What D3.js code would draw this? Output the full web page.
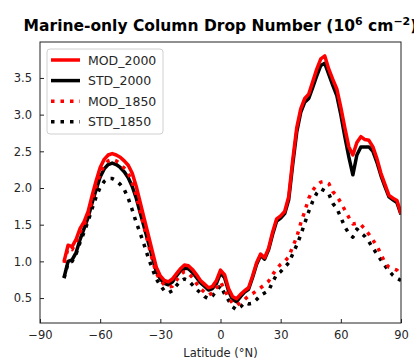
<!DOCTYPE html>
<html>
<head>
<meta charset="utf-8">
<script src="https://cdn.jsdelivr.net/npm/d3@7"></script>
<style>
  body { margin: 0; background: white; }
  text { font-family: "DejaVu Sans", sans-serif; }
</style>
</head>
<body>
<div id="chart"></div>
<script>
// latitude grid, 2 degree steps from -78 to 90
var lats = d3.range(-78, 91, 2);

var mod2000 = [1.00,1.22,1.20,1.30,1.45,1.54,1.68,1.90,2.10,2.28,2.39,2.45,2.47,2.45,2.42,2.37,2.31,2.20,2.02,1.80,
  1.58,1.36,1.14,0.92,0.80,0.74,0.72,0.76,0.83,0.90,0.95,0.94,0.89,0.82,0.74,0.69,0.64,0.66,0.74,0.88,
  0.82,0.63,0.52,0.49,0.55,0.60,0.64,0.80,0.98,1.10,1.05,1.18,1.40,1.58,1.62,1.68,1.88,2.38,2.82,3.08,
  3.22,3.28,3.45,3.62,3.76,3.80,3.62,3.48,3.35,3.10,2.82,2.56,2.45,2.62,2.70,2.66,2.65,2.56,2.40,2.20,
  2.05,1.90,1.86,1.83,1.65];
var std2000 = [0.78,1.00,1.02,1.12,1.30,1.45,1.60,1.80,1.98,2.15,2.26,2.32,2.34,2.32,2.28,2.22,2.14,2.02,1.86,1.66,
  1.46,1.26,1.06,0.86,0.76,0.70,0.68,0.72,0.80,0.87,0.91,0.90,0.85,0.78,0.71,0.66,0.61,0.63,0.70,0.84,
  0.78,0.60,0.48,0.45,0.52,0.58,0.62,0.78,0.96,1.08,1.03,1.16,1.37,1.55,1.59,1.65,1.84,2.32,2.76,3.03,
  3.17,3.22,3.37,3.53,3.67,3.70,3.55,3.40,3.26,3.00,2.70,2.42,2.18,2.45,2.56,2.56,2.56,2.50,2.35,2.17,
  2.02,1.88,1.84,1.80,1.64];
var mod1850 = [0.98,1.18,1.16,1.26,1.40,1.50,1.63,1.84,2.03,2.20,2.31,2.37,2.39,2.37,2.33,2.27,2.20,2.08,1.90,1.68,
  1.46,1.24,1.02,0.84,0.74,0.68,0.65,0.66,0.74,0.82,0.86,0.84,0.78,0.70,0.63,0.58,0.54,0.57,0.64,0.72,
  0.62,0.50,0.43,0.40,0.44,0.48,0.53,0.56,0.60,0.64,0.68,0.73,0.82,0.90,0.96,1.00,1.06,1.20,1.33,1.52,
  1.68,1.86,1.97,2.04,2.08,2.09,2.06,1.95,1.89,1.80,1.70,1.60,1.51,1.52,1.50,1.44,1.37,1.29,1.21,1.10,
  0.98,0.92,0.90,0.88,0.81];
var std1850 = [0.77,0.98,1.00,1.10,1.26,1.40,1.55,1.72,1.88,2.01,2.09,2.13,2.13,2.10,2.05,1.98,1.86,1.70,1.53,1.38,
  1.22,1.05,0.90,0.76,0.67,0.60,0.57,0.60,0.67,0.73,0.76,0.74,0.68,0.62,0.57,0.52,0.49,0.53,0.60,0.67,
  0.56,0.47,0.38,0.34,0.38,0.44,0.42,0.43,0.48,0.54,0.57,0.60,0.72,0.82,0.86,0.92,0.98,1.10,1.22,1.36,
  1.52,1.68,1.82,1.93,1.99,1.96,1.92,1.79,1.72,1.60,1.47,1.38,1.33,1.44,1.39,1.34,1.27,1.18,1.10,1.02,
  0.94,0.87,0.81,0.77,0.74];

var seriesNames = ['MOD_2000', 'STD_2000', 'MOD_1850', 'STD_1850'];
var seriesValues = [mod2000, std2000, mod1850, std1850];
var seriesColors = ['#ff0000', '#000000', '#ff0000', '#000000'];
var seriesDashed = [false, false, true, true];
var drawOrder = [1, 0, 3, 2]; // red drawn over black

var xTicks = [-90, -60, -30, 0, 30, 60, 90];
var yTicks = [0.5, 1.0, 1.5, 2.0, 2.5, 3.0, 3.5];

var w = 414, h = 361;
var mLeft = 40, mRight = 401, mTop = 42, mBottom = 323;

var svg = d3.select('#chart').append('svg')
  .attr('width', w)
  .attr('height', h)
  .style('background', 'white');

var x = d3.scaleLinear().domain([-90, 90]).range([mLeft, mRight]);
var y = d3.scaleLinear().domain([0.16, 3.99]).range([mBottom, mTop]);

var line = d3.line()
  .x(function(d) { return x(d[0]); })
  .y(function(d) { return y(d[1]); });

svg.append('clipPath').attr('id', 'clip')
  .append('rect')
  .attr('x', mLeft).attr('y', mTop)
  .attr('width', mRight - mLeft).attr('height', mBottom - mTop);

var lines = svg.append('g').attr('clip-path', 'url(#clip)');
drawOrder.forEach(function(i) {
  var vals = seriesValues[i];
  lines.append('path')
    .datum(lats.map(function(l, j) { return [l, vals[j]]; }))
    .attr('d', line)
    .attr('fill', 'none')
    .attr('stroke', seriesColors[i])
    .attr('stroke-width', 3.5)
    .attr('stroke-dasharray', seriesDashed[i] ? '3.5,6' : null)
    .attr('stroke-linejoin', 'round');
});

// axes, ticks pointing inward
var xAxis = d3.axisBottom(x).tickValues(xTicks).tickSizeInner(-4).tickSizeOuter(0)
  .tickPadding(8).tickFormat(function(d) { return d < 0 ? '\u2212' + Math.abs(d) : d; });
var yAxis = d3.axisLeft(y).tickValues(yTicks).tickSizeInner(-4).tickSizeOuter(0)
  .tickPadding(8).tickFormat(d3.format('.1f'));

var gx = svg.append('g').attr('transform', 'translate(0,' + mBottom + ')').call(xAxis);
var gy = svg.append('g').attr('transform', 'translate(' + mLeft + ',0)').call(yAxis);
[gx, gy].forEach(function(g) {
  g.select('.domain').remove();
  g.selectAll('line').attr('stroke', '#222');
  g.selectAll('text').attr('fill', '#262626').style('font-size', '11.5px');
});

svg.append('rect')
  .attr('x', mLeft).attr('y', mTop)
  .attr('width', mRight - mLeft).attr('height', mBottom - mTop)
  .attr('fill', 'none')
  .attr('stroke', '#222')
  .attr('stroke-width', 1);

// title
var title = svg.append('text')
  .attr('x', (mLeft + mRight) / 2)
  .attr('y', 31)
  .attr('text-anchor', 'middle')
  .style('font-size', '15.5px')
  .style('font-weight', 'bold')
  .attr('fill', '#000');
title.append('tspan').text('Marine-only Column Drop Number (10');
title.append('tspan').text('6').attr('dy', -6).style('font-size', '11px');
title.append('tspan').text(' cm').attr('dy', 6);
title.append('tspan').text('\u22122').attr('dy', -6).style('font-size', '11px');
title.append('tspan').text(')').attr('dy', 6);

svg.append('text')
  .attr('x', (mLeft + mRight) / 2)
  .attr('y', 357)
  .attr('text-anchor', 'middle')
  .style('font-size', '11.5px')
  .attr('fill', '#262626')
  .text('Latitude (\u00b0N)');

// legend
var legend = svg.append('g');
legend.append('rect')
  .attr('x', 47).attr('y', 49)
  .attr('width', 116).attr('height', 85)
  .attr('rx', 3)
  .attr('fill', 'white').attr('fill-opacity', 0.8)
  .attr('stroke', '#d0d0d0');

seriesNames.forEach(function(name, i) {
  var ly = 60 + i * 20.6;
  legend.append('line')
    .attr('x1', 51).attr('x2', 80)
    .attr('y1', ly).attr('y2', ly)
    .attr('stroke', seriesColors[i])
    .attr('stroke-width', 3.5)
    .attr('stroke-dasharray', seriesDashed[i] ? '3.5,6' : null);
  legend.append('text')
    .attr('x', 88).attr('y', ly + 4.5)
    .style('font-size', '12.5px')
    .attr('fill', '#262626')
    .text(name);
});
</script>
</body>
</html>
